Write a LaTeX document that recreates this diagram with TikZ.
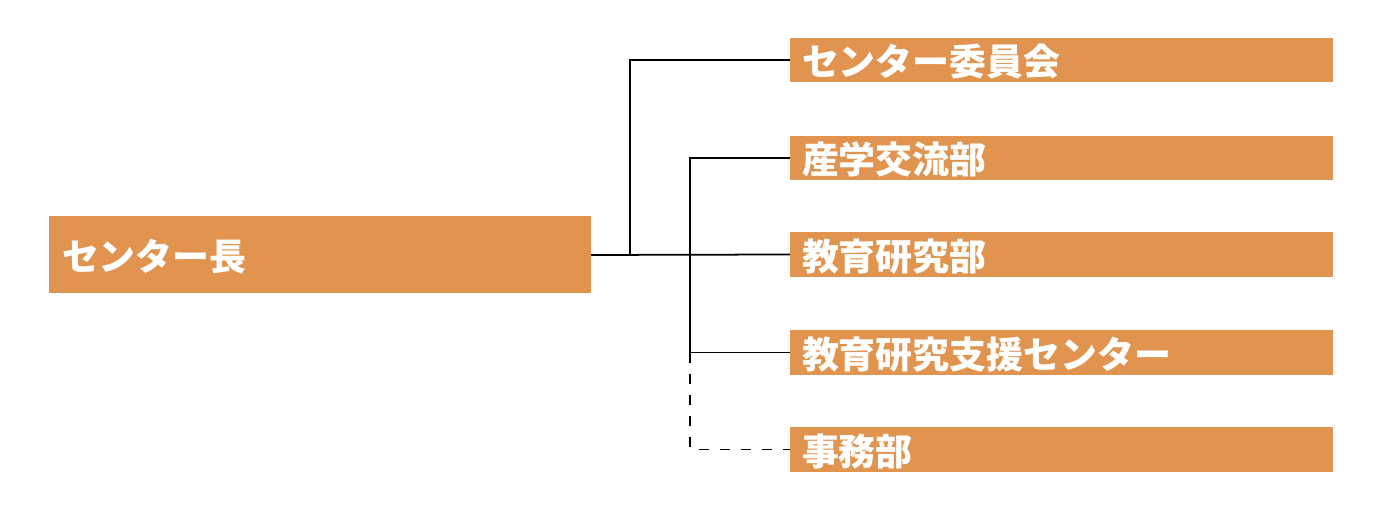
\documentclass[tikz,border=0pt]{standalone}
\usepackage{fontspec}
\newfontfamily\cjk{Noto Sans CJK JP}
\usepackage{tikz}
\usetikzlibrary{positioning}
\definecolor{boxorange}{HTML}{E0944F}
\tikzset{
  unitbox/.style={fill=boxorange, text=white, font=\cjk\bfseries\fontsize{10.5}{12}\selectfont,
    anchor=north west, inner sep=0pt, outer sep=0pt, text depth=0pt},
  link/.style={line width=0.5pt, black}
}
\begin{document}
\begin{tikzpicture}[x=0.01cm, y=-0.01cm]
    \useasboundingbox (0,0) rectangle (1390,510);

    % head box
    \fill[boxorange] (49,216) rectangle (591,293);
    \node[unitbox, fill=none, anchor=west] (head) at (62,254.5) {センター長};
    \coordinate (headr) at (591,255);

    % unit boxes
    \foreach \y/\h/\name/\txt in {38/82/committee/センター委員会, 136/180/exchange/産学交流部,
        232/277/research/教育研究部, 330/375/support/教育研究支援センター, 427/472/office/事務部} {
      \fill[boxorange] (790,\y) rectangle (1333,\h);
      \coordinate (\name) at (790,{(\y+\h)/2});
      \node[unitbox, fill=none, anchor=west] at (802,{(\y+\h)/2}) {\txt};
    }

    % connectors
    \draw[link] (headr) -- (research);
    \draw[link] (630,255) |- (committee);
    \draw[link] (exchange) -| (690,352.5) -- (support);
    \draw[link, dashed] (690,352.5) |- (office);
\end{tikzpicture}
\end{document}
